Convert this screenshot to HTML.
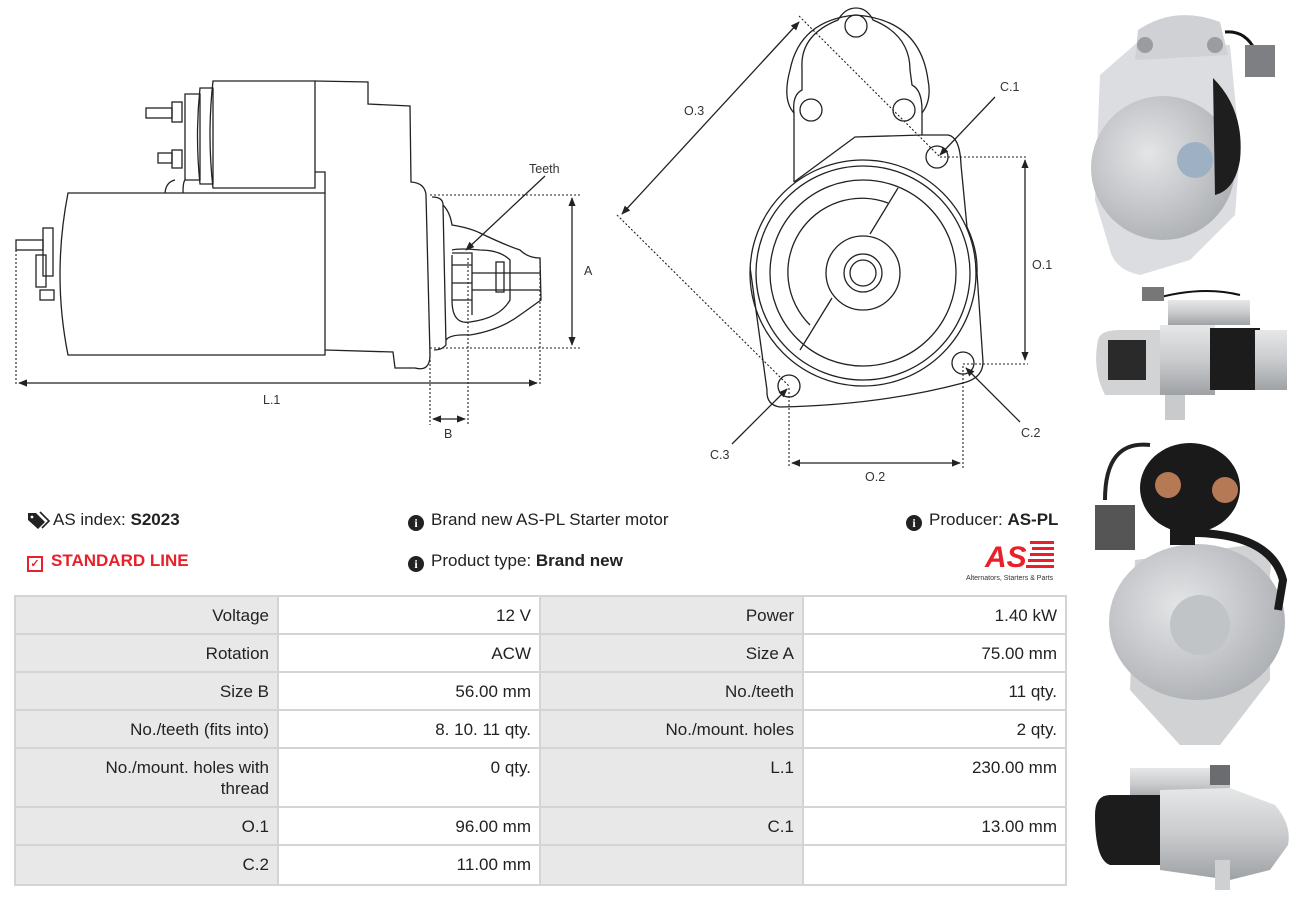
<!DOCTYPE html>
<html><head><meta charset="utf-8"><style>
body{margin:0;width:1297px;height:898px;background:#fff;position:relative;overflow:hidden;font-family:"Liberation Sans",sans-serif;color:#222}
.t{position:absolute;font-size:17px;white-space:nowrap}
.c{position:absolute;box-sizing:border-box;font-size:17px;text-align:right;padding:8px 8px 0 0;line-height:21px}
.l{background:#e8e8e8}
.v{background:#fff}
.ico{display:inline-block;width:16px;height:16px;border-radius:50%;background:#222;color:#fff;font-size:12px;font-weight:bold;text-align:center;line-height:16px;font-family:"Liberation Serif",serif;vertical-align:-2px;margin-right:7px}
</style></head><body>
<svg width="1297" height="898" style="position:absolute;left:0;top:0" fill="none" stroke="#222" stroke-width="1.3">
<defs><marker id="a" viewBox="0 0 10 10" refX="9" refY="5" markerWidth="7" markerHeight="7" orient="auto-start-reverse"><path d="M0,1 L10,5 L0,9z" fill="#222" stroke="none"/></marker>
<radialGradient id="g1" cx="40%" cy="40%" r="70%"><stop offset="0" stop-color="#e4e5e7"/><stop offset="1" stop-color="#a9acb0"/></radialGradient>
<linearGradient id="g2" x1="0" y1="0" x2="0" y2="1"><stop offset="0" stop-color="#e6e7e8"/><stop offset="0.5" stop-color="#c9cbcd"/><stop offset="1" stop-color="#9fa2a5"/></linearGradient>
</defs>
<!-- side view -->
<path d="M68,193 L325,193 L325,355 L68,355 Q52,275 68,193Z"/>
<path d="M213,81 L315,81 L315,188 L213,188 Q207,135 213,81Z"/>
<path d="M200,88 L213,88 L213,184 L200,184 Q195,136 200,88Z"/>
<path d="M185,94 L200,94 L200,180 L185,180Z"/>
<path d="M315,81 L368,82 L368,104 L410,106 L411,182 Q425,183 426,195 L430,355 Q430,372 415,368 L395,368 L393,352 L325,350"/>
<path d="M315,172 L325,172 L325,193"/>
<path d="M165,193 Q166,182 175,180 M183,193 Q183,182 185,180"/>
<rect x="172" y="102" width="10" height="20"/><rect x="146" y="108" width="26" height="10"/>
<rect x="172" y="150" width="10" height="18"/><rect x="158" y="153" width="14" height="10"/>
<rect x="43" y="228" width="10" height="48"/><rect x="36" y="255" width="10" height="32"/>
<rect x="16" y="240" width="27" height="10"/><rect x="40" y="290" width="14" height="10"/>
<path d="M432,197 Q443,197 443,205 L446,345 Q442,350 434,350"/>
<path d="M443,205 Q450,212 452,225 Q470,228 480,233 Q505,245 520,250 Q528,258 540,258 L541,300 Q530,308 520,315 Q500,330 470,335 Q450,334 446,340"/>
<path d="M452,255 L452,300 Q452,325 470,322 Q500,318 510,300 L510,260 Q500,250 480,250 Q460,248 452,250"/>
<path d="M452,253 L472,253 L472,315 M452,265 L472,265 M452,283 L472,283 M452,300 L472,300"/>
<path d="M472,273 L540,273 M472,290 L540,290"/><rect x="496" y="262" width="8" height="30"/>
<g stroke-dasharray="2,2" stroke-width="1.1">
<path d="M16,250 L16,385 M430,195 L580,195 M430,348 L580,348 M540,258 L540,385 M430,348 L430,425 M468,258 L468,425"/>
</g>
<path d="M19,383 L537,383" marker-start="url(#a)" marker-end="url(#a)"/>
<path d="M572,198 L572,345" marker-start="url(#a)" marker-end="url(#a)"/>
<path d="M433,419 L465,419" marker-start="url(#a)" marker-end="url(#a)"/>
<path d="M545,176 L466,250" marker-end="url(#a)"/>
<!-- front view -->
<path d="M794,182 L794,113 Q792,95 802,90 L802,68 Q800,35 838,20 Q845,8 856,8 Q867,8 873,20 Q910,35 910,70 L912,85 Q922,90 922,110 L922,135 L948,135 Q960,137 961,165 L967,227 Q978,250 977,273 L983,362 Q983,378 963,383 Q880,405 780,407 Q766,405 767,390 L750,267"/>
<path d="M794,113 Q782,100 790,70 Q800,20 856,15 Q920,20 928,80 Q932,100 922,113"/>
<path d="M794,182 L855,137 L922,135"/>
<circle cx="863" cy="273" r="113"/><circle cx="863" cy="273" r="107"/><circle cx="863" cy="273" r="93"/>
<path d="M888,203 A74,74 0 0 0 810,325"/>
<path d="M898,188 L870,234 M832,298 L800,350"/>
<circle cx="863" cy="273" r="37"/><circle cx="863" cy="273" r="19"/><circle cx="863" cy="273" r="13"/>
<circle cx="856" cy="26" r="11"/><circle cx="811" cy="110" r="11"/><circle cx="904" cy="110" r="11"/>
<circle cx="937" cy="157" r="11"/><circle cx="963" cy="363" r="11"/><circle cx="789" cy="386" r="11"/>
<g stroke-dasharray="2,2" stroke-width="1.1">
<path d="M799,16 L940,157 M617,215 L789,386 M940,157 L1028,157 M963,364 L1028,364 M789,388 L789,468 M963,366 L963,468"/>
</g>
<path d="M799,22 L622,214" marker-start="url(#a)" marker-end="url(#a)"/>
<path d="M1025,160 L1025,360" marker-start="url(#a)" marker-end="url(#a)"/>
<path d="M792,463 L960,463" marker-start="url(#a)" marker-end="url(#a)"/>
<path d="M995,97 L940,155" marker-end="url(#a)"/>
<path d="M1020,422 L966,368" marker-end="url(#a)"/>
<path d="M732,444 L787,389" marker-end="url(#a)"/>
<g fill="#333" stroke="none" font-size="12.5" font-family="Liberation Sans">
<text x="529" y="173">Teeth</text><text x="584" y="275">A</text><text x="263" y="404">L.1</text><text x="444" y="438">B</text>
<text x="684" y="115">O.3</text><text x="1000" y="91">C.1</text><text x="1032" y="269">O.1</text><text x="1021" y="437">C.2</text><text x="710" y="459">C.3</text><text x="865" y="481">O.2</text>
</g>
<!-- photos -->
<g stroke="none">
<!-- photo 1 -->
<path d="M1100,75 L1140,40 L1230,45 L1240,150 L1235,215 L1190,260 L1140,275 Q1115,270 1110,250 L1095,200 Z" fill="#dcdde0"/>
<path d="M1138,30 Q1175,5 1220,22 L1228,55 L1135,60Z" fill="#cfd1d4"/>
<circle cx="1163" cy="168" r="72" fill="url(#g1)"/>
<circle cx="1195" cy="160" r="18" fill="#9db0c4"/>
<path d="M1213,78 Q1245,110 1240,160 Q1235,190 1215,195Z" fill="#1e1e1e"/>
<circle cx="1145" cy="45" r="8" fill="#9a9c9f"/><circle cx="1215" cy="45" r="8" fill="#9a9c9f"/>
<path d="M1225,32 Q1245,30 1255,50" stroke="#111" stroke-width="3" fill="none"/>
<rect x="1245" y="45" width="30" height="32" fill="#7d7f82"/>
<!-- photo 2 -->
<path d="M1098,340 Q1100,330 1120,330 L1160,330 L1160,395 L1105,395 Q1092,370 1098,340Z" fill="#d2d3d5"/>
<rect x="1108" y="340" width="38" height="40" fill="#2a2a2a"/>
<rect x="1160" y="325" width="55" height="70" fill="url(#g2)"/>
<rect x="1210" y="328" width="50" height="62" fill="#1c1c1c"/>
<rect x="1255" y="330" width="32" height="60" fill="url(#g2)"/>
<rect x="1168" y="300" width="82" height="25" fill="url(#g2)"/>
<rect x="1165" y="395" width="20" height="25" fill="#c8cacc"/>
<path d="M1150,300 Q1200,285 1240,295" stroke="#111" stroke-width="2" fill="none"/>
<rect x="1142" y="287" width="22" height="14" fill="#777"/>
<!-- photo 3 -->
<path d="M1135,560 L1250,545 Q1275,545 1270,575 L1270,680 L1220,745 L1180,745 L1130,690Z" fill="#d0d2d4"/>
<ellipse cx="1197" cy="622" rx="88" ry="78" fill="url(#g1)"/>
<circle cx="1200" cy="625" r="30" fill="#c1c4c7"/>
<ellipse cx="1190" cy="488" rx="50" ry="45" fill="#1a1a1a"/>
<circle cx="1168" cy="485" r="13" fill="#b57a55"/><circle cx="1225" cy="490" r="13" fill="#b57a55"/>
<path d="M1170,525 L1195,525 L1195,545 L1170,545Z" fill="#1a1a1a"/>
<path d="M1180,533 Q1270,530 1283,580 L1278,610" stroke="#1a1a1a" stroke-width="8" fill="none"/>
<path d="M1105,500 Q1105,440 1150,445" stroke="#222" stroke-width="4" fill="none"/>
<rect x="1095" y="505" width="40" height="45" fill="#555"/>
<!-- photo 4 -->
<rect x="1130" y="768" width="100" height="32" fill="url(#g2)"/>
<path d="M1095,815 Q1095,795 1110,795 L1165,795 L1165,865 L1110,865 Q1095,860 1095,815Z" fill="#1c1c1c"/>
<path d="M1160,790 L1230,788 L1275,805 Q1292,825 1288,845 L1270,870 L1230,880 L1160,870Z" fill="url(#g2)"/>
<rect x="1210" y="765" width="20" height="20" fill="#6a6c6f"/>
<rect x="1215" y="860" width="15" height="30" fill="#cfd0d2"/>
</g>
<!-- AS logo -->
<g stroke="none" fill="#e8202a"><text x="985" y="567" font-size="30" font-weight="bold" font-style="italic" font-family="Liberation Sans">AS</text>
<rect x="1030" y="541" width="24" height="3"/><rect x="1032" y="547" width="22" height="3"/><rect x="1030" y="553" width="24" height="3"/><rect x="1028" y="559" width="26" height="3"/><rect x="1026" y="565" width="28" height="3"/></g>
<text x="966" y="580" font-size="7" fill="#333" stroke="none" font-family="Liberation Sans">Alternators, Starters &amp; Parts</text>
<!-- tag icon -->
<path d="M28,513 L36,513 L45,522 L38,529 L28,520Z" fill="#222" stroke="none"/>
<path d="M40,512 L49,521 L42,528" stroke="#222" stroke-width="1.6"/>
<circle cx="32" cy="517" r="1.4" fill="#fff" stroke="none"/>
</svg>
<div class="t" style="left:53px;top:510px">AS index: <b>S2023</b></div>
<div class="t" style="left:27px;top:551px;color:#e8202a;font-weight:bold"><span style="display:inline-block;width:12px;height:12px;border:2px solid #e8202a;vertical-align:-1px;margin-right:8px;font-size:11px;line-height:12px;text-align:center">✓</span>STANDARD LINE</div>
<div class="t" style="left:408px;top:510px"><span class="ico">i</span>Brand new AS-PL Starter motor</div>
<div class="t" style="left:408px;top:551px"><span class="ico">i</span>Product type: <b>Brand new</b></div>
<div class="t" style="left:906px;top:510px"><span class="ico">i</span>Producer: <b>AS-PL</b></div>
<div style="position:absolute;left:14px;top:595px;width:1053px;height:291px;background:#d4d4d4"></div>
<div class="c l" style="left:16px;top:597px;width:261px;height:36px">Voltage</div>
<div class="c v" style="left:279px;top:597px;width:260px;height:36px">12 V</div>
<div class="c l" style="left:541px;top:597px;width:261px;height:36px">Power</div>
<div class="c v" style="left:804px;top:597px;width:261px;height:36px">1.40 kW</div>
<div class="c l" style="left:16px;top:635px;width:261px;height:36px">Rotation</div>
<div class="c v" style="left:279px;top:635px;width:260px;height:36px">ACW</div>
<div class="c l" style="left:541px;top:635px;width:261px;height:36px">Size A</div>
<div class="c v" style="left:804px;top:635px;width:261px;height:36px">75.00 mm</div>
<div class="c l" style="left:16px;top:673px;width:261px;height:36px">Size B</div>
<div class="c v" style="left:279px;top:673px;width:260px;height:36px">56.00 mm</div>
<div class="c l" style="left:541px;top:673px;width:261px;height:36px">No./teeth</div>
<div class="c v" style="left:804px;top:673px;width:261px;height:36px">11 qty.</div>
<div class="c l" style="left:16px;top:711px;width:261px;height:36px">No./teeth (fits into)</div>
<div class="c v" style="left:279px;top:711px;width:260px;height:36px">8. 10. 11 qty.</div>
<div class="c l" style="left:541px;top:711px;width:261px;height:36px">No./mount. holes</div>
<div class="c v" style="left:804px;top:711px;width:261px;height:36px">2 qty.</div>
<div class="c l" style="left:16px;top:749px;width:261px;height:57px">No./mount. holes with<br>thread</div>
<div class="c v" style="left:279px;top:749px;width:260px;height:57px">0 qty.</div>
<div class="c l" style="left:541px;top:749px;width:261px;height:57px">L.1</div>
<div class="c v" style="left:804px;top:749px;width:261px;height:57px">230.00 mm</div>
<div class="c l" style="left:16px;top:808px;width:261px;height:36px">O.1</div>
<div class="c v" style="left:279px;top:808px;width:260px;height:36px">96.00 mm</div>
<div class="c l" style="left:541px;top:808px;width:261px;height:36px">C.1</div>
<div class="c v" style="left:804px;top:808px;width:261px;height:36px">13.00 mm</div>
<div class="c l" style="left:16px;top:846px;width:261px;height:38px">C.2</div>
<div class="c v" style="left:279px;top:846px;width:260px;height:38px">11.00 mm</div>
<div class="c l" style="left:541px;top:846px;width:261px;height:38px"></div>
<div class="c v" style="left:804px;top:846px;width:261px;height:38px"></div>
</body></html>
